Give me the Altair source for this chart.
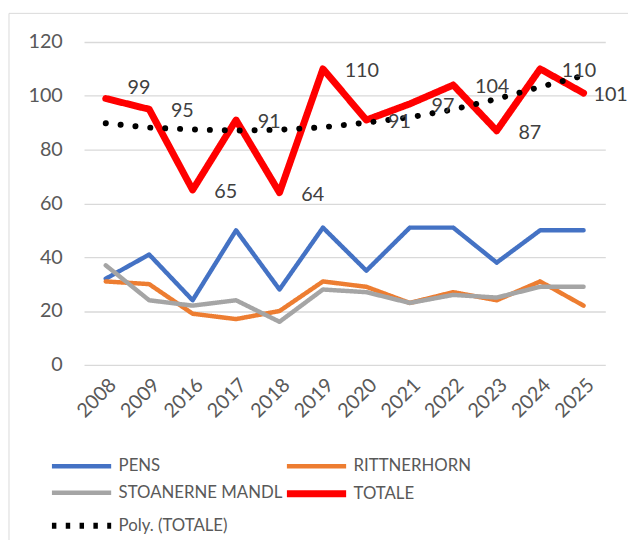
import altair as alt
import pandas as pd

years = ["2008", "2009", "2016", "2017", "2018", "2019", "2020", "2021", "2022", "2023", "2024", "2025"]
pens = [32, 41, 24, 50, 28, 51, 35, 51, 51, 38, 50, 50]
rittnerhorn = [31, 30, 19, 17, 20, 31, 29, 23, 27, 24, 31, 22]
stoanerne = [37, 24, 22, 24, 16, 28, 27, 23, 26, 25, 29, 29]
totale = [99, 95, 65, 91, 64, 110, 91, 97, 104, 87, 110, 101]
trend = [89.8, 88.2, 87.5, 87.1, 87.4, 88.3, 90.0, 92.0, 94.9, 98.8, 103.3, 107.5]

series_names = ["PENS", "RITTNERHORN", "STOANERNE MANDL", "TOTALE", "Poly. (TOTALE)"]
series_values = [pens, rittnerhorn, stoanerne, totale, trend]
colors = ["#4472C4", "#ED7D31", "#A5A5A5", "#FF0000", "#000000"]
widths = [4.5, 4.5, 4.5, 7, 6]
legend_dashes = [[1, 0], [1, 0], [1, 0], [1, 0], [4.5, 9.5]]
TREND_NAME = "Poly. (TOTALE)"

rows = []
for name, vals in zip(series_names, series_values):
    for y, v in zip(years, vals):
        rows.append({"year": y, "value": v, "series": name})
df = pd.DataFrame(rows)

FONT = "Lato"
TXT = "#595959"

x_enc = alt.X("year:N", sort=years, title=None,
              scale=alt.Scale(paddingOuter=0.5, paddingInner=0),
              axis=alt.Axis(labelAngle=-45, labelFontSize=20, labelColor=TXT, labelFont=FONT,
                            ticks=False, domain=False, labelPadding=10, grid=False))
y_enc = alt.Y("value:Q", title=None,
              scale=alt.Scale(domain=[0, 120], nice=False, zero=True),
              axis=alt.Axis(values=[0, 20, 40, 60, 80, 100, 120], labelFontSize=20, labelColor=TXT,
                            labelFont=FONT, ticks=False, domain=False, labelPadding=22,
                            gridColor="#D9D9D9", gridWidth=1.3))

legend = alt.Legend(title=None, orient="none", legendX=-36, legendY=412, columns=2,
                    direction="horizontal", labelLimit=400,
                    symbolType="M-1,0H3", symbolSize=900, labelFont=FONT, labelFontSize=17,
                    labelColor=TXT, columnPadding=-13, rowPadding=-4, labelOffset=34, padding=0)

sc_color = alt.Scale(domain=series_names, range=colors)
sc_width = alt.Scale(type="ordinal", domain=series_names, range=widths)
sc_dash = alt.Scale(domain=series_names, range=legend_dashes)

series_lines = alt.Chart(df).transform_filter(alt.datum.series != TREND_NAME).mark_line(
    strokeCap="round", strokeJoin="round"
).encode(
    x=x_enc,
    y=y_enc,
    color=alt.Color("series:N", scale=sc_color, legend=legend),
    strokeWidth=alt.StrokeWidth("series:N", scale=sc_width, legend=legend),
    strokeDash=alt.StrokeDash("series:N", scale=sc_dash, legend=legend),
    detail="series:N",
)

trend_line = alt.Chart(df).transform_filter(alt.datum.series == TREND_NAME).mark_line(
    strokeCap="round", strokeJoin="round", strokeDash=[0.1, 15]
).encode(
    x=alt.X("year:N", sort=years),
    y="value:Q",
    color=alt.Color("series:N", scale=sc_color, legend=legend),
    strokeWidth=alt.StrokeWidth("series:N", scale=sc_width, legend=legend),
)

tot = alt.Chart(df).transform_filter(alt.datum.series == "TOTALE")
lab_enc = dict(x=alt.X("year:N", sort=years), y="value:Q", text="value:Q")
lab_style = dict(align="left", baseline="middle", fontSize=20, font=FONT, color="#404040")

labels_mid = tot.transform_filter((alt.datum.year != "2008") & (alt.datum.year != "2025")).mark_text(
    dx=22, dy=2, **lab_style).encode(**lab_enc)
label_first = tot.transform_filter(alt.datum.year == "2008").mark_text(
    dx=22, dy=-11, **lab_style).encode(**lab_enc)
label_last = tot.transform_filter(alt.datum.year == "2025").mark_text(
    dx=10, dy=2, **lab_style).encode(**lab_enc)

frame = alt.Chart(pd.DataFrame({"k": [0]})).mark_rect(fill=None, stroke="#D9D9D9", strokeWidth=1).encode(
    x=alt.value(-76), x2=alt.value(560), y=alt.value(-29), y2=alt.value(510)
)

chart = alt.layer(frame, series_lines, trend_line, labels_mid, label_first, label_last).properties(
    width=528, height=327, autosize=alt.AutoSizeParams(type="none"),
    padding={"left": 77, "top": 31, "right": 23, "bottom": 175},
    background="white",
).configure_view(stroke=None)

chart.save("out.html", embed_options={"renderer": "svg", "actions": False})
